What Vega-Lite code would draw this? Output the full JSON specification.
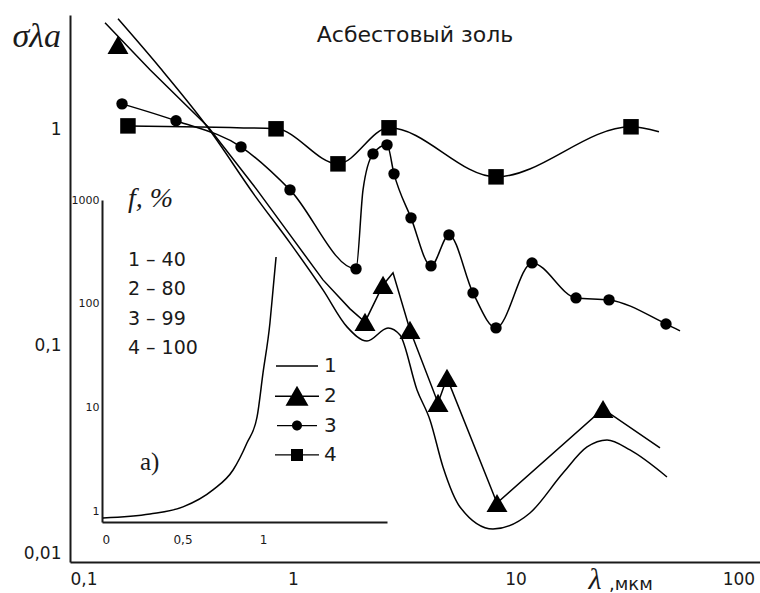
{
  "$schema": "https://vega.github.io/schema/vega-lite/v6.json",
  "width": 690,
  "height": 547,
  "autosize": "none",
  "padding": {"left": 70, "top": 15, "right": 0, "bottom": 31},
  "background": "white",
  "config": {
    "view": {"stroke": null},
    "axis": {"grid": false, "ticks": false, "domainColor": "#1a1a1a", "domainWidth": 2, "labelFont": "DejaVu Sans", "labelColor": "#1a1a1a"}
  },
  "title": {"text": "Асбестовый золь", "font": "DejaVu Sans", "fontSize": 22, "fontWeight": "normal", "color": "#1a1a1a", "anchor": "middle", "frame": "group", "offset": -49, "baseline": "alphabetic"},
  "datasets": {
    "curve1": [
      {"lambda": 0.1642, "sigma": 3.265}, {"lambda": 0.2535, "sigma": 1.936}, {"lambda": 0.4163, "sigma": 1.022},
      {"lambda": 0.6766, "sigma": 0.495}, {"lambda": 0.9714, "sigma": 0.2998}, {"lambda": 1.366, "sigma": 0.1816},
      {"lambda": 1.751, "sigma": 0.1225}, {"lambda": 2.153, "sigma": 0.1054}, {"lambda": 2.676, "sigma": 0.1212},
      {"lambda": 3.028, "sigma": 0.1124}, {"lambda": 3.61, "sigma": 0.06255}, {"lambda": 4.128, "sigma": 0.04545},
      {"lambda": 4.722, "sigma": 0.02753}, {"lambda": 5.628, "sigma": 0.01798}, {"lambda": 7.916, "sigma": 0.01421},
      {"lambda": 11.6, "sigma": 0.01686}, {"lambda": 16.32, "sigma": 0.02582}, {"lambda": 20.92, "sigma": 0.03406},
      {"lambda": 25.72, "sigma": 0.03672}, {"lambda": 32.62, "sigma": 0.033}, {"lambda": 47.8, "sigma": 0.02474}
    ],
    "curve2": [
      {"lambda": 0.1436, "sigma": 3.129}, {"lambda": 0.2286, "sigma": 1.896}, {"lambda": 0.4163, "sigma": 1.033},
      {"lambda": 0.6907, "sigma": 0.5275}, {"lambda": 0.9714, "sigma": 0.3265}, {"lambda": 1.366, "sigma": 0.2021},
      {"lambda": 1.806, "sigma": 0.1484}, {"lambda": 2.109, "sigma": 0.1291}, {"lambda": 2.541, "sigma": 0.1916},
      {"lambda": 2.817, "sigma": 0.2178}, {"lambda": 3.357, "sigma": 0.1186}, {"lambda": 4.485, "sigma": 0.05446},
      {"lambda": 4.921, "sigma": 0.07109}, {"lambda": 8.25, "sigma": 0.01875}, {"lambda": 24.68, "sigma": 0.05108},
      {"lambda": 44.47, "sigma": 0.0337}
    ],
    "marks2": [
      {"lambda": 0.1642, "sigma": 2.475}, {"lambda": 2.109, "sigma": 0.1291}, {"lambda": 2.541, "sigma": 0.1916},
      {"lambda": 3.357, "sigma": 0.1186}, {"lambda": 4.485, "sigma": 0.05446}, {"lambda": 4.921, "sigma": 0.07109},
      {"lambda": 8.25, "sigma": 0.01875}, {"lambda": 24.68, "sigma": 0.05108}
    ],
    "curve3": [
      {"lambda": 0.1712, "sigma": 1.319}, {"lambda": 0.2991, "sigma": 1.101}, {"lambda": 0.5855, "sigma": 0.834},
      {"lambda": 0.9714, "sigma": 0.5275}, {"lambda": 1.922, "sigma": 0.2273}, {"lambda": 2.066, "sigma": 0.5275},
      {"lambda": 2.291, "sigma": 0.774}, {"lambda": 2.648, "sigma": 0.852}, {"lambda": 2.846, "sigma": 0.6255},
      {"lambda": 3.392, "sigma": 0.3914}, {"lambda": 4.172, "sigma": 0.2346}, {"lambda": 5.024, "sigma": 0.3265},
      {"lambda": 6.438, "sigma": 0.1759}, {"lambda": 8.166, "sigma": 0.1212}, {"lambda": 11.85, "sigma": 0.2422},
      {"lambda": 18.67, "sigma": 0.1668}, {"lambda": 26.26, "sigma": 0.1633}, {"lambda": 47.3, "sigma": 0.1264},
      {"lambda": 54.7, "sigma": 0.1173}
    ],
    "marks3": [
      {"lambda": 0.1712, "sigma": 1.319}, {"lambda": 0.2991, "sigma": 1.101}, {"lambda": 0.5855, "sigma": 0.834},
      {"lambda": 0.9714, "sigma": 0.5275}, {"lambda": 1.922, "sigma": 0.2273}, {"lambda": 2.291, "sigma": 0.774},
      {"lambda": 2.648, "sigma": 0.852}, {"lambda": 2.846, "sigma": 0.6255}, {"lambda": 3.392, "sigma": 0.3914},
      {"lambda": 4.172, "sigma": 0.2346}, {"lambda": 5.024, "sigma": 0.3265}, {"lambda": 6.438, "sigma": 0.1759},
      {"lambda": 8.166, "sigma": 0.1212}, {"lambda": 11.85, "sigma": 0.2422}, {"lambda": 18.67, "sigma": 0.1668},
      {"lambda": 26.26, "sigma": 0.1633}, {"lambda": 47.3, "sigma": 0.1264}
    ],
    "curve4": [
      {"lambda": 0.182, "sigma": 1.043}, {"lambda": 0.841, "sigma": 1.011}, {"lambda": 1.595, "sigma": 0.696},
      {"lambda": 2.703, "sigma": 1.022}, {"lambda": 8.17, "sigma": 0.606}, {"lambda": 32.96, "sigma": 1.033},
      {"lambda": 44.0, "sigma": 0.979}
    ],
    "marks4": [
      {"lambda": 0.182, "sigma": 1.043}, {"lambda": 0.841, "sigma": 1.011}, {"lambda": 1.595, "sigma": 0.696},
      {"lambda": 2.703, "sigma": 1.022}, {"lambda": 8.17, "sigma": 0.606}, {"lambda": 32.96, "sigma": 1.033}
    ],
    "inset": [
      {"x": 0.006, "f": 0.876}, {"x": 0.298, "f": 0.957}, {"x": 0.503, "f": 1.117}, {"x": 0.689, "f": 1.627},
      {"x": 0.814, "f": 2.53}, {"x": 0.9, "f": 4.6}, {"x": 0.963, "f": 8.19}, {"x": 1.0, "f": 21.7},
      {"x": 1.043, "f": 65.6}, {"x": 1.062, "f": 136}, {"x": 1.081, "f": 283}
    ],
    "curves": [{"curve": "1"}, {"curve": "2"}, {"curve": "3"}, {"curve": "4"}]
  },
  "layer": [
    {
      "layer": [
        {
          "data": {"name": "curve1"},
          "mark": {"type": "line", "interpolate": "monotone", "color": "black", "strokeWidth": 1.5},
          "encoding": {
            "x": {"field": "lambda", "type": "quantitative", "scale": {"type": "log", "domain": [0.1, 125], "nice": false},
              "axis": {"values": [0.1, 1, 10, 100], "format": "~g", "labelExpr": "replace(datum.label, '.', ',')", "labelFontSize": 17, "labelPadding": 9,
                "title": "λ", "titleFont": "Liberation Serif", "titleFontStyle": "italic", "titleFontWeight": "normal", "titleFontSize": 30, "titleColor": "#1a1a1a",
                "titleX": 518, "titleY": 26, "titleAlign": "left", "titleBaseline": "alphabetic"}},
            "y": {"field": "sigma", "type": "quantitative", "scale": {"type": "log", "domain": [0.01, 3.4], "nice": false},
              "axis": {"values": [0.01, 0.1, 1], "format": "~g", "labelExpr": "replace(datum.label, '.', ',')", "labelFontSize": 17, "labelPadding": 9,
                "labelBaseline": {"condition": {"test": "datum.value < 0.05", "value": "bottom"}, "value": "middle"},
                "title": "σλa", "titleFont": "Liberation Serif", "titleFontStyle": "italic", "titleFontWeight": "normal", "titleFontSize": 34, "titleColor": "#1a1a1a",
                "titleX": -58, "titleY": 31, "titleAngle": 0, "titleAlign": "left", "titleBaseline": "alphabetic"}}
          }
        },
        {
          "data": {"name": "curve2"},
          "mark": {"type": "line", "interpolate": "linear", "color": "black", "strokeWidth": 1.5},
          "encoding": {
            "x": {"field": "lambda", "type": "quantitative", "scale": {"type": "log", "domain": [0.1, 125], "nice": false}},
            "y": {"field": "sigma", "type": "quantitative", "scale": {"type": "log", "domain": [0.01, 3.4], "nice": false}}
          }
        },
        {
          "data": {"name": "curve3"},
          "mark": {"type": "line", "interpolate": "monotone", "color": "black", "strokeWidth": 1.5},
          "encoding": {
            "x": {"field": "lambda", "type": "quantitative", "scale": {"type": "log", "domain": [0.1, 125], "nice": false}},
            "y": {"field": "sigma", "type": "quantitative", "scale": {"type": "log", "domain": [0.01, 3.4], "nice": false}}
          }
        },
        {
          "data": {"name": "curve4"},
          "mark": {"type": "line", "interpolate": "monotone", "color": "black", "strokeWidth": 1.5},
          "encoding": {
            "x": {"field": "lambda", "type": "quantitative", "scale": {"type": "log", "domain": [0.1, 125], "nice": false}},
            "y": {"field": "sigma", "type": "quantitative", "scale": {"type": "log", "domain": [0.01, 3.4], "nice": false}}
          }
        },
        {
          "data": {"name": "marks2"},
          "mark": {"type": "point", "shape": "triangle-up", "filled": true, "color": "black", "opacity": 1, "size": 440},
          "encoding": {
            "x": {"field": "lambda", "type": "quantitative", "scale": {"type": "log", "domain": [0.1, 125], "nice": false}},
            "y": {"field": "sigma", "type": "quantitative", "scale": {"type": "log", "domain": [0.01, 3.4], "nice": false}}
          }
        },
        {
          "data": {"name": "marks3"},
          "mark": {"type": "point", "shape": "circle", "filled": true, "color": "black", "opacity": 1, "size": 130},
          "encoding": {
            "x": {"field": "lambda", "type": "quantitative", "scale": {"type": "log", "domain": [0.1, 125], "nice": false}},
            "y": {"field": "sigma", "type": "quantitative", "scale": {"type": "log", "domain": [0.01, 3.4], "nice": false}}
          }
        },
        {
          "data": {"name": "marks4"},
          "mark": {"type": "point", "shape": "square", "filled": true, "color": "black", "opacity": 1, "size": 240},
          "encoding": {
            "x": {"field": "lambda", "type": "quantitative", "scale": {"type": "log", "domain": [0.1, 125], "nice": false}},
            "y": {"field": "sigma", "type": "quantitative", "scale": {"type": "log", "domain": [0.01, 3.4], "nice": false}}
          }
        },
        {
          "data": {"values": [{}]},
          "mark": {"type": "text", "font": "DejaVu Sans", "fontSize": 18, "color": "#1a1a1a", "align": "left", "baseline": "alphabetic"},
          "encoding": {
            "x": {"datum": 26.26, "type": "quantitative", "scale": {"type": "log", "domain": [0.1, 125], "nice": false}},
            "y": {"datum": 0.00742, "type": "quantitative", "scale": {"type": "log", "domain": [0.01, 3.4], "nice": false}},
            "text": {"value": ",мкм"}
          }
        },
        {
          "data": {"name": "curves"},
          "mark": {"type": "point", "filled": true, "color": "black", "opacity": 0},
          "encoding": {
            "shape": {"field": "curve", "type": "nominal",
              "scale": {"domain": ["1", "2", "3", "4"], "range": [
                "M-2.1,-0.07H2.1V0.07H-2.1Z",
                "M-2.2,-0.07H2.2V0.07H-2.2ZM0,-1.05L1.15,0.95L-1.15,0.95Z",
                "M-2,-0.07H2V0.07H-2ZM0.5,0A0.5,0.5 0 1 1 -0.5,0A0.5,0.5 0 1 1 0.5,0Z",
                "M-2.2,-0.07H2.2V0.07H-2.2ZM-0.6,-0.6H0.6V0.6H-0.6Z"
              ]},
              "legend": {"orient": "none", "legendX": 217, "legendY": 341, "title": null, "padding": 0,
                "symbolSize": 400, "symbolFillColor": "black", "symbolStrokeColor": "black", "symbolStrokeWidth": 0, "symbolOpacity": 1,
                "labelFont": "DejaVu Sans", "labelFontSize": 20, "labelColor": "#1a1a1a", "labelOffset": 17, "rowPadding": 9.3}}
          }
        }
      ]
    },
    {
      "layer": [
        {
          "data": {"name": "inset"},
          "mark": {"type": "line", "interpolate": "monotone", "color": "black", "strokeWidth": 1.5},
          "encoding": {
            "x": {"field": "x", "type": "quantitative", "scale": {"domain": [0, 1.77], "range": [32, 317], "nice": false, "zero": false},
              "axis": {"orient": "bottom", "offset": -40, "values": [0, 0.5, 1], "format": "~g", "labelExpr": "replace(datum.label, '.', ',')", "labelFontSize": 12, "labelPadding": 12, "title": null}},
            "y": {"field": "f", "type": "quantitative", "scale": {"type": "log", "domain": [0.8, 1000], "range": [507, 185], "nice": false},
              "axis": {"orient": "left", "offset": -32, "values": [1, 10, 100, 1000], "format": "~g", "labelFontSize": 11, "labelPadding": 3, "title": null}}
          }
        },
        {
          "data": {"values": [{}]},
          "mark": {"type": "text", "font": "Liberation Serif", "fontStyle": "italic", "fontSize": 28, "color": "#1a1a1a", "align": "left", "baseline": "alphabetic"},
          "encoding": {
            "x": {"datum": 0.161, "type": "quantitative", "scale": {"domain": [0, 1.77], "range": [32, 317], "nice": false, "zero": false}},
            "y": {"datum": 857, "type": "quantitative", "scale": {"type": "log", "domain": [0.8, 1000], "range": [507, 185], "nice": false}},
            "text": {"value": "f, %"}
          }
        },
        {
          "data": {"values": [{}]},
          "mark": {"type": "text", "font": "DejaVu Sans", "fontSize": 19, "color": "#1a1a1a", "align": "left", "baseline": "alphabetic", "lineHeight": 29.3},
          "encoding": {
            "x": {"datum": 0.161, "type": "quantitative", "scale": {"domain": [0, 1.77], "range": [32, 317], "nice": false, "zero": false}},
            "y": {"datum": 232, "type": "quantitative", "scale": {"type": "log", "domain": [0.8, 1000], "range": [507, 185], "nice": false}},
            "text": {"value": ["1 – 40", "2 – 80", "3 – 99", "4 – 100"]}
          }
        },
        {
          "data": {"values": [{}]},
          "mark": {"type": "text", "font": "Liberation Serif", "fontSize": 25, "color": "#1a1a1a", "align": "left", "baseline": "alphabetic"},
          "encoding": {
            "x": {"datum": 0.236, "type": "quantitative", "scale": {"domain": [0, 1.77], "range": [32, 317], "nice": false, "zero": false}},
            "y": {"datum": 2.53, "type": "quantitative", "scale": {"type": "log", "domain": [0.8, 1000], "range": [507, 185], "nice": false}},
            "text": {"value": "a)"}
          }
        }
      ]
    }
  ],
  "resolve": {"scale": {"x": "independent", "y": "independent"}, "axis": {"x": "independent", "y": "independent"}}
}
